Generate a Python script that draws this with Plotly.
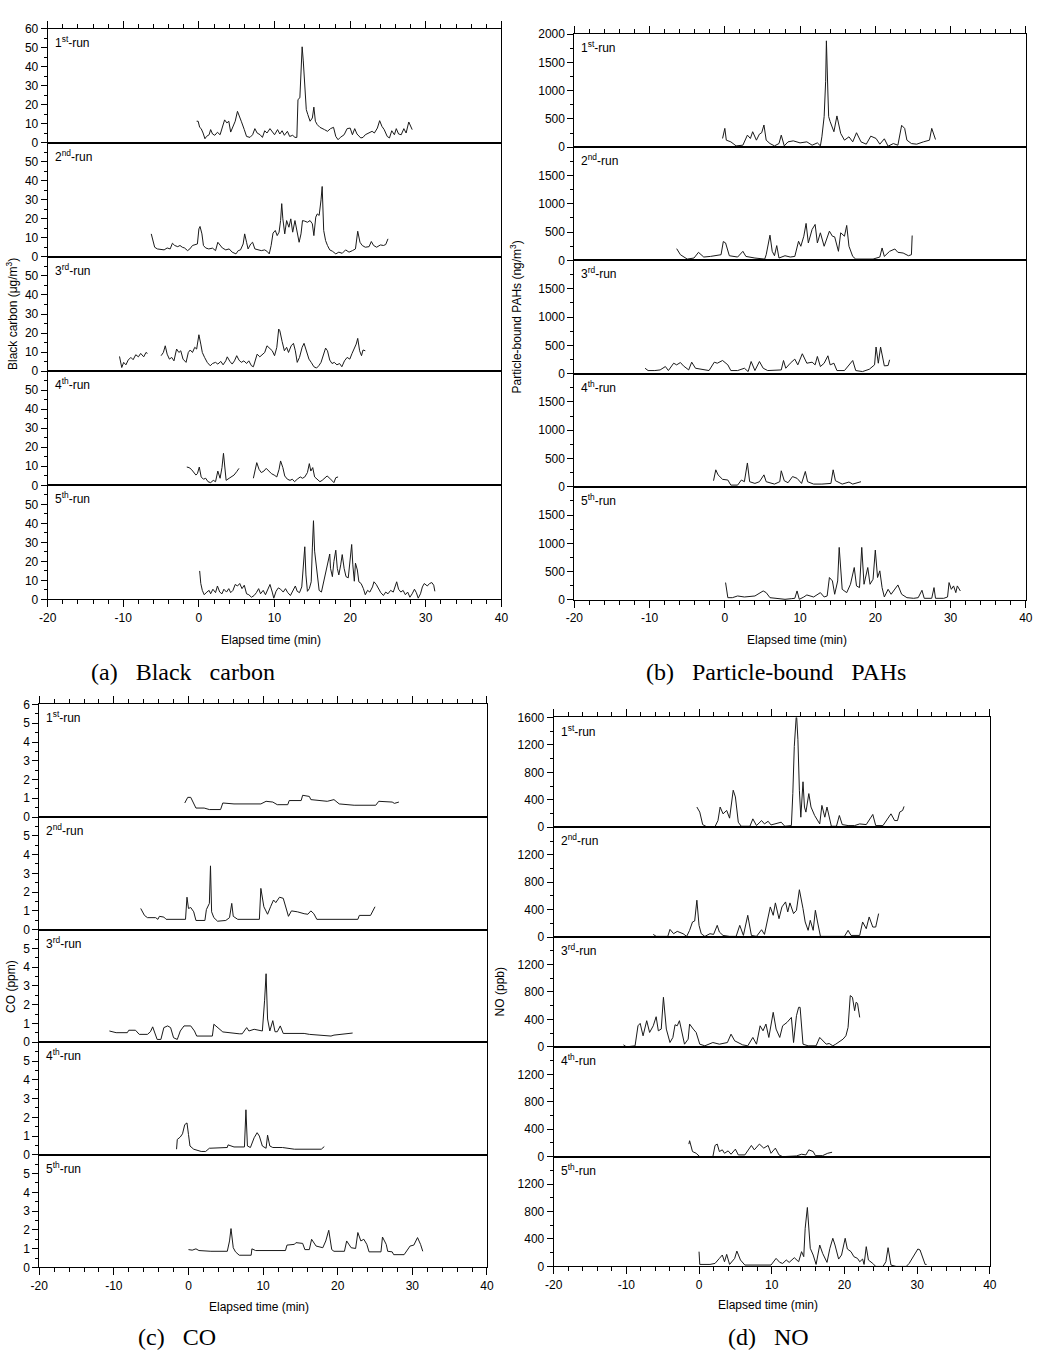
import plotly.graph_objects as go

W, H = 1055, 1355
# measured mapping of the photographed page (page px -> picture px): out = a + s * page
MAP_AX, MAP_SX = 8.0, 0.986
MAP_AY, MAP_SY = 6.0, 0.988

# ---------------- DATA (elapsed time [min], value) ----------------
BC_RUN1 = [(-0.3,11.3),(-0.1,11.3),(0.1,8.1),(0.3,7.4),(0.55,5.1),(0.8,2.1),(1.0,3.3),(1.35,4.2),(1.55,6.9),(1.8,4.6),(2.1,3.9),(2.45,5.5),(2.8,4.2),(3.1,7.7),(3.4,12),(3.7,10.4),(3.95,11.3),(4.2,5.6),(4.5,8.1),(4.8,11.3),(5.1,16.5),(5.3,13.9),(5.6,11.3),(6.0,6.9),(6.3,3.3),(6.75,2.8),(7.1,4.2),(7.4,7.4),(7.7,5.1),(8.1,4.2),(8.4,2.8),(8.7,6.3),(9.0,5.1),(9.4,7.4),(9.7,5.6),(10.0,4.2),(10.4,6.9),(10.7,4.6),(11.0,6.3),(11.3,3.9),(11.7,6.0),(12.0,3.3),(12.4,3.9),(12.7,2.8),(12.95,2.8),(13.1,22.7),(13.35,23.6),(13.5,37.7),(13.65,50.4),(13.8,43),(14.0,26.2),(14.2,17.4),(14.4,14.8),(14.7,11.3),(15.0,13),(15.2,18.7),(15.4,11.3),(15.65,9.5),(16.0,8.1),(16.3,7.7),(16.6,6.9),(17.0,6.0),(17.4,7.4),(17.8,8.1),(18.1,3.3),(18.4,1.6),(18.7,2.8),(19.2,4.2),(19.6,7.4),(20.0,7.7),(20.3,4.2),(20.6,7.4),(20.9,4.6),(21.4,2.5),(21.7,2.8),(22.0,4.2),(22.5,5.1),(22.9,6.0),(23.2,5.1),(23.6,7.7),(23.9,11.6),(24.2,8.6),(24.5,6.9),(24.9,3.3),(25.2,2.5),(25.5,6.3),(25.85,4.2),(26.1,7.4),(26.4,4.6),(26.75,4.2),(27.1,7.4),(27.4,5.1),(27.75,10.9),(28.0,8.6),(28.2,6.9)]
BC_RUN2 = [(-6.3,12.1),(-6.1,8.6),(-5.85,5.1),(-5.5,4.2),(-5.0,3.9),(-4.6,3.7),(-4.2,4.7),(-3.8,4.2),(-3.5,7.2),(-3.2,6.0),(-2.8,5.4),(-2.5,6.0),(-2.2,5.1),(-1.9,4.7),(-1.5,3.3),(-1.2,4.2),(-0.85,6.0),(-0.5,6.5),(-0.2,6.8),(0.0,14.7),(0.15,16),(0.4,12.1),(0.6,6.0),(0.9,4.7),(1.3,4.2),(1.8,4.6),(2.2,3.3),(2.5,7.7),(2.8,6.0),(3.1,4.7),(3.55,3.7),(4.0,4.2),(4.4,2.5),(4.9,1.6),(5.2,3.3),(5.5,3.7),(5.85,6.8),(6.05,12.1),(6.3,7.7),(6.5,4.2),(6.85,6.8),(7.1,7.7),(7.4,4.2),(7.8,3.7),(8.25,3.3),(8.7,3.7),(9.05,2.8),(9.3,1.6),(9.55,6.0),(9.8,12.5),(10.1,13.9),(10.35,11.2),(10.6,13.0),(10.8,19.1),(10.95,28),(11.1,20),(11.35,12.1),(11.6,19.1),(11.9,15.6),(12.15,20),(12.4,13),(12.7,19.1),(12.95,13.9),(13.25,7.7),(13.5,12.1),(13.7,19.1),(14.0,18.8),(14.35,18.2),(14.7,19.1),(15.0,17.4),(15.2,11.2),(15.45,20.9),(15.65,22.6),(15.9,21.8),(16.15,30),(16.3,37),(16.5,13.9),(16.75,8.6),(17.0,6.0),(17.3,3.7),(17.65,3.0),(18.1,1.6),(18.5,2.5),(18.95,1.9),(19.4,3.7),(19.85,2.5),(20.3,3.3),(20.7,4.2),(21.0,13.5),(21.3,7.7),(21.6,6.0),(22.0,5.1),(22.5,5.4),(22.8,8.1),(23.1,6.0),(23.5,5.1),(24.0,6.3),(24.4,6.0),(24.7,6.5),(25.0,9.5)]
BC_RUN3 = [(-10.5,7.7),(-10.2,1.9),(-9.95,4.6),(-9.65,3.3),(-9.35,5.8),(-9.0,7.2),(-8.7,6.0),(-8.35,8.6),(-8.0,7.5),(-7.7,9.3),(-7.3,7.5),(-7.0,9.8),(-6.8,9.3),(None,None),(-5.0,8.1),(-4.7,9.8),(-4.45,13.3),(-4.2,8.9),(-3.9,6.3),(-3.6,7.2),(-3.3,5.4),(-2.95,11.6),(-2.65,9.8),(-2.4,10.7),(-2.1,6.3),(-1.7,4.6),(-1.4,9.8),(-1.15,11.1),(-0.85,9.8),(-0.55,12.5),(-0.3,11.6),(0.0,19.1),(0.25,14.2),(0.45,9.8),(0.75,7.2),(1.1,4.6),(1.5,2.8),(1.8,4.0),(2.2,4.6),(2.5,3.7),(2.9,5.1),(3.2,3.3),(3.55,5.4),(3.75,7.5),(4.1,5.1),(4.4,3.7),(4.7,5.4),(5.0,8.1),(5.3,5.8),(5.6,4.6),(5.95,5.4),(6.3,4.0),(6.6,5.4),(6.95,2.8),(7.2,2.3),(7.5,7.2),(7.7,8.9),(8.05,7.5),(8.4,8.6),(8.7,9.8),(9.0,13.3),(9.4,11.6),(9.7,10.7),(10.0,8.1),(10.3,12.5),(10.55,22.1),(10.7,21.2),(11.0,15.6),(11.3,10.7),(11.6,12.5),(11.85,9.8),(12.2,13.3),(12.5,14.6),(12.75,10.7),(13.0,4.6),(13.3,7.2),(13.65,12.5),(13.9,14.6),(14.25,10.7),(14.55,6.3),(14.85,4.6),(15.2,2.3),(15.55,1.6),(15.85,2.8),(16.15,4.6),(16.5,8.9),(16.75,12.1),(17.0,10.7),(17.3,5.8),(17.6,4.0),(17.9,4.6),(18.25,3.3),(18.6,4.0),(18.9,2.3),(19.25,5.4),(19.6,7.2),(19.95,6.3),(20.25,9.3),(20.55,11.6),(20.8,14.2),(21.0,17.2),(21.25,10.7),(21.5,8.1),(21.7,11.1),(22.0,10.7)]
BC_RUN4 = [(-1.6,9.6),(-1.3,9.3),(-1.0,8.4),(-0.7,6.7),(-0.4,5.4),(-0.2,6.1),(0.05,9.6),(0.3,4.4),(0.6,3.2),(0.9,3.7),(1.2,1.9),(1.55,1.4),(1.9,2.6),(2.2,1.9),(2.5,7.5),(2.8,3.7),(3.05,9.3),(3.25,16.8),(3.4,11.1),(3.6,2.6),(4.0,3.7),(4.3,4.4),(4.65,5.4),(5.0,7.2),(5.3,8.9),(None,None),(7.2,3.7),(7.45,9.3),(7.65,11.9),(7.95,8.4),(8.25,6.7),(8.6,7.5),(8.9,8.9),(9.25,7.5),(9.6,6.1),(9.95,5.4),(10.3,4.4),(10.6,8.4),(10.8,12.8),(11.1,9.3),(11.35,4.9),(11.7,3.2),(12.05,2.6),(12.35,3.2),(12.65,1.9),(13.0,3.2),(13.4,4.4),(13.7,3.7),(14.0,4.4),(14.35,6.7),(14.6,11.4),(14.8,7.5),(15.05,9.3),(15.3,4.4),(15.65,3.2),(16.0,1.9),(16.3,2.6),(16.6,3.7),(16.95,4.9),(17.3,3.7),(17.65,2.3),(17.85,1.4),(18.1,4.0),(18.4,4.4)]
BC_RUN5 = [(0.1,15),(0.25,8.4),(0.45,4.8),(0.7,2.5),(1.05,3.9),(1.35,4.8),(1.55,3.0),(1.85,5.4),(2.2,3.6),(2.45,7.1),(2.75,3.9),(3.05,3.0),(3.3,5.4),(3.65,3.9),(3.95,5.7),(4.2,3.6),(4.5,4.8),(4.8,7.9),(5.1,7.1),(5.4,8.4),(5.7,5.7),(6.0,7.5),(6.3,3.0),(6.6,2.5),(6.95,1.2),(7.3,2.1),(7.6,3.6),(7.9,5.7),(8.15,3.0),(8.5,4.8),(8.8,2.5),(9.15,5.7),(9.4,7.9),(9.7,3.9),(9.9,0.7),(10.2,4.3),(10.5,6.1),(10.8,5.4),(11.15,3.9),(11.45,5.7),(11.75,3.6),(12.1,2.1),(12.45,4.8),(12.75,7.1),(13.0,4.3),(13.3,3.6),(13.6,6.6),(13.8,16.4),(14.0,27.7),(14.15,12.9),(14.35,4.3),(14.6,5.7),(14.85,9.3),(15.0,27.1),(15.15,41.4),(15.3,25.4),(15.5,18.8),(15.65,11.1),(15.9,4.8),(16.2,3.9),(16.45,8.4),(16.75,14.6),(17.05,20),(17.3,23.9),(17.4,16.4),(17.65,12),(17.85,20),(18.1,25.9),(18.3,16.4),(18.5,12.9),(18.75,18.2),(18.95,23.6),(19.2,16.4),(19.45,12),(19.75,11.4),(20.05,21.8),(20.2,28.9),(20.35,18.2),(20.55,9.6),(20.7,19.1),(20.95,15.5),(21.15,9.3),(21.45,8.4),(21.75,5.7),(22.0,2.5),(22.3,4.8),(22.6,3.9),(22.95,6.6),(23.15,9.3),(23.45,7.9),(23.75,5.4),(24.05,3.6),(24.4,2.1),(24.7,3.9),(25.0,3.0),(25.35,4.8),(25.7,3.9),(25.95,6.6),(26.15,9.3),(26.4,5.4),(26.7,3.9),(27.0,4.8),(27.3,2.5),(27.6,3.9),(27.9,1.2),(28.2,3.0),(28.5,5.4),(28.75,3.6),(29.0,0.7),(29.3,3.0),(29.55,6.6),(29.8,8.4),(30.2,7.1),(30.5,8.4),(30.8,8.9),(31.05,7.5),(31.2,4.3)]

PAH_RUN1 = [(-0.3,155),(0,333),(0.2,125),(0.8,95),(1.5,24),(2.4,36),(3.0,214),(3.4,155),(3.7,274),(4.2,125),(4.6,232),(4.9,256),(5.2,393),(5.5,125),(6.0,65),(6.6,24),(7.2,65),(7.5,214),(7.9,24),(8.4,95),(9.1,113),(10.0,77),(10.9,95),(11.6,36),(12.3,77),(12.7,24),(12.9,184),(13.2,541),(13.4,1166),(13.5,1880),(13.7,958),(13.8,541),(14.0,452),(14.5,274),(14.9,553),(15.4,244),(15.9,125),(16.5,184),(17.0,95),(17.5,256),(18.1,95),(18.8,54),(19.4,196),(20.1,155),(20.6,54),(21.2,149),(21.7,18),(22.4,65),(23.0,36),(23.5,387),(23.9,333),(24.2,125),(24.8,65),(25.5,54),(26.4,95),(27.2,125),(27.5,333),(28.0,137)]
PAH_RUN2 = [(-6.4,208),(-5.9,101),(-5.0,24),(-4.1,42),(-3.5,143),(-2.8,60),(-1.9,71),(-1.0,83),(-0.5,101),(-0.2,333),(0.1,309),(0.6,83),(1.7,60),(2.4,161),(2.8,71),(4.0,42),(5.3,24),(5.5,101),(6.0,446),(6.3,161),(6.6,83),(6.9,262),(7.2,42),(8.0,83),(8.7,60),(9.3,71),(9.8,339),(10.1,250),(10.5,428),(10.8,654),(11.1,309),(11.6,547),(12.0,636),(12.3,309),(12.7,488),(13.2,250),(13.9,517),(14.3,428),(14.6,416),(15.1,161),(15.4,488),(15.9,428),(16.2,618),(16.5,250),(17.0,71),(17.4,24),(18.3,24),(19.7,24),(20.6,60),(20.9,220),(21.2,71),(21.9,161),(22.6,202),(23.0,143),(23.7,131),(24.4,83),(24.8,101),(24.9,440)]
PAH_RUN3 = [(-10.6,95),(-10.2,54),(-9.3,54),(-8.6,65),(-7.9,125),(-7.5,54),(-6.8,184),(-6.4,155),(-5.9,196),(-5.5,137),(-4.8,65),(-4.4,202),(-3.9,95),(-3.0,77),(-2.1,54),(-1.4,202),(-1.0,184),(-0.3,232),(0.4,155),(0.8,54),(1.7,54),(2.6,95),(3.1,36),(3.5,214),(4.0,54),(4.6,214),(5.1,95),(5.7,54),(6.6,54),(7.5,65),(7.8,232),(8.1,95),(8.7,184),(9.3,256),(9.7,155),(10.3,351),(10.9,184),(11.6,202),(12.0,155),(12.3,303),(12.7,125),(13.2,184),(13.7,315),(14.0,155),(14.5,184),(14.9,54),(15.9,54),(16.5,155),(17.0,232),(17.4,54),(18.3,36),(19.2,77),(19.9,155),(20.1,470),(20.4,184),(20.7,470),(20.9,303),(21.2,137),(21.7,143),(21.9,244)]
PAH_RUN4 = [(-1.5,108),(-1.2,300),(-0.9,211),(-0.3,132),(0.4,120),(0.8,30),(1.7,30),(2.2,120),(2.6,90),(3.0,421),(3.3,90),(4.0,60),(4.6,90),(5.2,211),(5.5,90),(6.6,48),(7.3,90),(7.5,283),(7.9,108),(8.4,72),(9.0,181),(9.6,150),(10.2,60),(10.7,271),(11.0,90),(11.8,48),(12.9,48),(14.1,60),(14.4,300),(14.7,108),(15.6,48),(16.5,84),(17.0,48),(17.8,72),(18.1,90)]
PAH_RUN5 = [(0.1,308),(0.4,41),(1.0,41),(1.7,71),(2.6,53),(4.0,71),(5.1,160),(5.5,130),(6.0,41),(7.1,30),(8.0,12),(8.9,24),(9.3,30),(9.6,160),(9.9,12),(10.5,53),(10.9,89),(11.8,53),(12.7,130),(13.2,53),(13.6,71),(13.9,397),(14.3,337),(14.6,101),(15.0,337),(15.2,929),(15.4,515),(15.6,189),(16.2,130),(16.7,278),(17.2,574),(17.5,249),(17.9,219),(18.2,929),(18.5,278),(19.0,574),(19.3,278),(19.7,367),(20.0,882),(20.3,397),(20.6,515),(20.9,219),(21.2,53),(21.7,189),(22.1,101),(23.0,266),(23.5,101),(24.2,41),(25.1,30),(25.7,41),(26.2,172),(26.5,30),(27.5,30),(27.8,219),(28.0,30),(29.1,30),(29.6,53),(29.8,308),(30.1,189),(30.4,249),(30.7,130),(30.9,249),(31.3,160)]

CO_RUN1 = [(-0.5,0.75),(-0.1,1.05),(0.3,1.05),(0.7,0.75),(1.0,0.48),(2.1,0.48),(2.8,0.4),(4.3,0.4),(4.6,0.75),(6.1,0.7),(9.7,0.7),(10.4,0.84),(11.3,0.8),(11.9,0.66),(13.3,0.66),(13.5,0.88),(15.1,0.88),(15.3,1.16),(16.2,1.1),(16.4,0.93),(18.6,0.84),(19.5,0.93),(20.2,0.7),(22.2,0.63),(25.1,0.63),(25.5,0.84),(27.3,0.8),(27.6,0.73),(28.2,0.8)]
CO_RUN2 = [(-6.4,1.13),(-5.9,0.76),(-5.5,0.64),(-4.4,0.64),(-4.1,0.55),(-3.9,0.71),(-3.3,0.67),(-3.0,0.55),(-0.4,0.55),(-0.2,1.73),(0,1.13),(0.3,1.18),(0.7,0.95),(1.0,0.49),(2.2,0.49),(2.4,1.07),(2.8,1.4),(2.95,3.4),(3.1,0.95),(3.4,0.64),(3.9,0.45),(5.0,0.49),(5.5,0.64),(5.8,1.4),(6.0,0.71),(6.6,0.55),(9.5,0.55),(9.7,2.2),(10.1,1.22),(10.6,0.82),(11.0,1.22),(11.4,1.58),(11.7,1.44),(12.2,1.73),(12.7,1.67),(13.0,1.22),(13.4,0.71),(13.8,1.0),(14.6,0.95),(15.5,0.85),(16.0,0.82),(16.4,1.0),(16.8,0.85),(17.2,0.55),(19.5,0.55),(22.7,0.55),(22.9,0.76),(24.4,0.76),(25.0,1.22)]
CO_RUN3 = [(-10.6,0.6),(-9.7,0.51),(-8.2,0.51),(-8.0,0.64),(-7.1,0.64),(-6.6,0.42),(-5.5,0.42),(-5.1,0.56),(-4.8,0.82),(-4.5,0.42),(-4.2,0.15),(-3.7,0.15),(-3.3,0.78),(-2.8,0.87),(-2.4,0.78),(-2.0,0.24),(-1.5,0.15),(-1.1,0.6),(-0.6,0.87),(0.3,0.87),(0.8,0.6),(1.1,0.33),(3.2,0.33),(3.4,0.96),(3.9,0.78),(4.3,0.64),(4.6,0.55),(6.8,0.45),(7.2,0.45),(7.8,0.78),(8.1,0.6),(8.8,0.69),(9.5,0.64),(9.9,0.6),(10.2,2.24),(10.4,3.65),(10.6,1.24),(10.9,0.6),(11.3,1.15),(11.6,0.56),(11.9,0.56),(12.3,0.87),(12.7,0.47),(15.5,0.47),(16.2,0.42),(19.1,0.33),(19.5,0.38),(22.0,0.49)]
CO_RUN4 = [(-1.6,0.3),(-1.5,0.82),(-1.1,0.95),(-0.8,1.12),(-0.5,1.61),(-0.2,1.7),(0,1.09),(0.2,0.47),(0.7,0.3),(1.2,0.25),(1.7,0.18),(2.3,0.18),(2.8,0.35),(5.2,0.39),(5.3,0.53),(6.1,0.42),(7.5,0.42),(7.7,2.4),(7.9,0.47),(8.3,0.39),(8.8,0.91),(9.2,1.18),(9.5,1.0),(9.9,0.47),(10.4,0.35),(10.6,1.05),(10.9,0.47),(11.3,0.39),(12.6,0.39),(14.2,0.3),(17.8,0.3),(18.2,0.44)]
CO_RUN5 = [(0,0.95),(0.5,0.92),(1.0,0.99),(1.4,0.9),(3.0,0.86),(5.2,0.86),(5.5,1.41),(5.7,2.07),(6.0,1.05),(6.3,0.83),(6.8,0.65),(8.4,0.65),(8.5,0.99),(9.0,0.9),(13.0,0.9),(13.2,1.19),(14.2,1.23),(14.4,1.32),(15.3,1.28),(15.6,0.95),(16.2,0.95),(16.5,1.5),(17.1,1.14),(18.0,1.05),(18.4,1.41),(18.8,1.98),(19.2,0.95),(19.5,0.86),(20.9,0.86),(21.2,1.41),(21.8,1.05),(22.4,1.01),(22.7,1.86),(23.1,1.41),(23.5,1.5),(23.9,1.23),(24.2,0.83),(25.8,0.83),(26.0,1.62),(26.5,1.23),(26.7,0.86),(27.3,0.83),(27.5,0.68),(28.9,0.68),(29.7,1.14),(30.2,1.19),(30.7,1.59),(31.1,1.23),(31.4,0.86)]

NO_RUN1 = [(-0.3,295),(0.1,221),(0.5,39),(1.0,10),(2.2,10),(2.6,98),(2.9,295),(3.3,196),(3.8,245),(4.2,133),(4.7,540),(5.0,442),(5.4,74),(5.8,15),(7.0,15),(7.4,123),(7.9,25),(8.6,98),(9.0,49),(9.5,88),(9.9,34),(10.6,49),(11.3,74),(11.8,15),(12.7,25),(12.9,491),(13.1,1178),(13.4,1669),(13.6,1277),(13.8,540),(14.0,147),(14.3,663),(14.5,295),(14.7,221),(15.1,491),(15.4,295),(15.9,172),(16.6,49),(16.9,319),(17.3,147),(17.6,295),(18.2,15),(18.9,15),(19.3,172),(19.7,39),(20.5,25),(21.4,25),(22.1,49),(23.0,39),(23.9,187),(24.3,25),(25.3,25),(26.4,196),(26.9,98),(27.3,98),(27.6,221),(28.0,245),(28.2,304)]
NO_RUN2 = [(-6.3,39),(-5.9,10),(-4.3,10),(-4.0,112),(-3.5,49),(-3.0,83),(-2.2,49),(-1.7,10),(-1.3,98),(-0.9,220),(-0.6,234),(-0.3,537),(0,171),(0.3,49),(0.8,10),(1.5,49),(2.0,39),(2.5,171),(2.8,73),(3.3,24),(4.2,10),(5.1,10),(5.6,171),(6.1,24),(6.7,317),(7.2,24),(7.9,10),(8.6,107),(9.0,39),(9.5,293),(9.8,439),(10.2,317),(10.5,498),(11.0,268),(11.4,439),(11.9,512),(12.2,366),(12.5,498),(13.0,342),(13.4,390),(13.8,690),(14.3,415),(14.6,220),(15.0,98),(15.3,244),(15.7,98),(16.0,390),(16.3,220),(16.7,10),(17.9,10),(20.0,10),(20.5,98),(20.9,24),(22.1,24),(22.5,220),(23.0,122),(23.4,293),(23.9,146),(24.3,146),(24.7,342)]
NO_RUN3 = [(-10.4,29),(-10.0,0),(-8.8,15),(-8.4,307),(-8.1,342),(-7.7,161),(-7.2,381),(-6.8,210),(-6.3,307),(-5.9,439),(-5.6,234),(-5.2,259),(-4.9,722),(-4.7,527),(-4.5,259),(-4.0,63),(-3.6,137),(-3.3,322),(-3.0,307),(-2.7,381),(-2.4,244),(-2.0,39),(-1.5,112),(-1.3,332),(-0.8,259),(-0.4,210),(0.1,39),(0.8,15),(1.9,63),(2.8,39),(3.9,63),(4.4,185),(4.9,88),(5.4,63),(6.0,29),(6.7,15),(7.4,137),(7.9,39),(8.4,307),(8.8,234),(9.2,332),(9.6,137),(10.2,503),(10.6,259),(11.1,137),(11.5,307),(12.1,356),(12.7,429),(13.0,63),(13.4,454),(13.7,576),(13.9,576),(14.3,39),(15.0,15),(16.1,15),(16.6,137),(17.0,98),(17.5,39),(17.9,49),(18.4,15),(18.8,39),(19.8,112),(20.2,161),(20.5,283),(20.8,747),(21.1,722),(21.4,527),(21.6,649),(21.8,634),(22.1,429)]
NO_RUN4 = [(-1.4,183),(-1.3,232),(-0.9,74),(-0.4,49),(0.1,0),(1.9,0),(2.2,163),(2.5,183),(2.8,74),(3.2,99),(3.5,49),(4.0,84),(4.4,35),(5.0,109),(5.4,25),(6.3,25),(7.2,163),(7.6,99),(8.3,183),(8.9,124),(9.5,163),(9.9,49),(10.5,124),(11.0,25),(11.5,0),(13.4,10),(14.1,35),(14.7,25),(15.1,99),(15.7,74),(16.0,15),(17.0,15),(17.7,49),(18.3,64)]
NO_RUN5 = [(0,215),(0.1,29),(1.5,29),(2.2,44),(2.8,117),(3.2,166),(3.5,68),(3.8,176),(4.2,29),(4.9,117),(5.2,224),(5.7,93),(6.3,20),(7.4,20),(8.8,29),(9.9,20),(10.6,117),(11.1,59),(11.5,44),(12.0,93),(12.4,59),(13.1,127),(13.7,68),(14.1,215),(14.4,142),(14.6,556),(14.9,859),(15.1,556),(15.3,264),(15.7,166),(16.1,29),(16.6,312),(17.0,190),(17.6,59),(18.0,264),(18.4,410),(18.7,312),(19.2,107),(19.6,166),(20.1,410),(20.4,254),(20.9,215),(21.3,142),(21.8,117),(22.1,68),(22.5,107),(22.7,29),(23.0,288),(23.3,93),(23.9,44),(24.3,0),(25.3,0),(25.7,68),(26.0,273),(26.4,20),(27.1,0),(28.5,0),(28.9,44),(29.6,166),(30.1,254),(30.4,240),(30.8,117),(31.1,29),(31.3,29)]

RUN_LABELS = ["1<sup>st</sup>-run", "2<sup>nd</sup>-run", "3<sup>rd</sup>-run", "4<sup>th</sup>-run", "5<sup>th</sup>-run"]
X_TICKS = [-20, -10, 0, 10, 20, 30, 40]
X_TICK_TEXT = ["-20", "-10", "0", "10", "20", "30", "40"]

# ---------------- LAYOUT (target positions in picture pixels) ----------------
FONT = "Liberation Sans, Arial, sans-serif"
SERIF = "Liberation Serif, Times New Roman, serif"
GAP = "\u00a0\u00a0\u00a0"

panels = [
    dict(series=[BC_RUN1, BC_RUN2, BC_RUN3, BC_RUN4, BC_RUN5], left=46.7, right=501, top=27.5, h=114,
         ymax=60, ystep=10, yminor=5, ytitle="Black carbon (μg/m<sup>3</sup>)", ytx=11,
         xtitle_xy=(270, 638), caption=f"(a){GAP}Black{GAP}carbon", cap_xy=(182, 670)),
    dict(series=[PAH_RUN1, PAH_RUN2, PAH_RUN3, PAH_RUN4, PAH_RUN5], left=574, right=1026, top=33, h=113,
         ymax=2000, ystep=500, yminor=250, ytitle="Particle-bound PAHs (ng/m<sup>3</sup>)", ytx=516,
         xtitle_xy=(797, 638), caption=f"(b){GAP}Particle-bound{GAP}PAHs", cap_xy=(776, 670)),
    dict(series=[CO_RUN1, CO_RUN2, CO_RUN3, CO_RUN4, CO_RUN5], left=38.3, right=486.5, top=702.3, h=112.4,
         ymax=6, ystep=1, yminor=0.5, ytitle="CO (ppm)", ytx=10,
         xtitle_xy=(258, 1304), caption=f"(c){GAP}CO", cap_xy=(176, 1334)),
    dict(series=[NO_RUN1, NO_RUN2, NO_RUN3, NO_RUN4, NO_RUN5], left=553.3, right=990, top=715.3, h=109.6,
         ymax=1600, ystep=400, yminor=200, ytitle="NO (ppb)", ytx=500,
         xtitle_xy=(768, 1302), caption=f"(d){GAP}NO", cap_xy=(768, 1334)),
]

fig = go.Figure()
layout = {}
annotations = []

def px(x):
    return ((x - MAP_AX) / MAP_SX) / W

def py(y):
    return 1 - ((y - MAP_AY) / MAP_SY) / H

k = 0
for p in panels:
    for i, s in enumerate(p["series"]):
        k += 1
        xs = [a for a, b in s]
        ys = [b for a, b in s]
        fig.add_trace(go.Scatter(x=xs, y=ys, mode="lines", xaxis=f"x{k}", yaxis=f"y{k}",
                                 line=dict(color="#1a1a1a", width=1), connectgaps=False,
                                 hoverinfo="skip", showlegend=False))
        top = p["top"] + i * p["h"]
        bot = top + p["h"]
        xa = dict(domain=[px(p["left"]), px(p["right"])], range=[-20, 40], anchor=f"y{k}",
                  showline=True, linecolor="black", linewidth=1, mirror=True,
                  showgrid=False, zeroline=False, tickmode="array", tickvals=X_TICKS,
                  ticktext=X_TICK_TEXT,
                  tickfont=dict(family=FONT, size=12, color="black"))
        if i == 4:
            xa.update(ticks="outside", ticklen=7, tickcolor="black", showticklabels=True,
                      minor=dict(ticks="outside", ticklen=4, tickcolor="black", tickmode="linear", tick0=0, dtick=2))
        elif i == 0:
            xa.update(side="top", ticks="outside", ticklen=7, tickcolor="black", showticklabels=False,
                      minor=dict(ticks="outside", ticklen=4, tickcolor="black", tickmode="linear", tick0=0, dtick=2))
        else:
            xa.update(ticks="", showticklabels=False)
        nmaj = int(round(p["ymax"] / p["ystep"]))
        last = nmaj if i == 0 else nmaj - 1
        yvals = [j * p["ystep"] for j in range(last + 1)]
        ya = dict(domain=[py(bot), py(top)], range=[0, p["ymax"]], anchor=f"x{k}",
                  showline=True, linecolor="black", linewidth=1, mirror=True,
                  showgrid=False, zeroline=False, tickmode="array", tickvals=yvals,
                  ticktext=[f"{v:g}" for v in yvals],
                  ticks="outside", ticklen=6, tickcolor="black",
                  minor=dict(ticks="outside", ticklen=3, tickcolor="black", tickmode="linear", tick0=0, dtick=p["yminor"]),
                  tickfont=dict(family=FONT, size=12, color="black"))
        layout[f"xaxis{k}"] = xa
        layout[f"yaxis{k}"] = ya
        annotations.append(dict(text=RUN_LABELS[i], x=px(p["left"] + 5), y=py(top + 3),
                                xref="paper", yref="paper", xanchor="left", yanchor="top",
                                showarrow=False, font=dict(family=FONT, size=12, color="black")))
    mid = p["top"] + 2.5 * p["h"]
    annotations.append(dict(text=p["ytitle"], x=px(p["ytx"]), y=py(mid), xref="paper", yref="paper",
                            xanchor="center", yanchor="middle", textangle=-90, showarrow=False,
                            font=dict(family=FONT, size=12, color="black")))
    annotations.append(dict(text="Elapsed time (min)", x=px(p["xtitle_xy"][0]), y=py(p["xtitle_xy"][1]),
                            xref="paper", yref="paper", xanchor="center", yanchor="middle", showarrow=False,
                            font=dict(family=FONT, size=12, color="black")))
    annotations.append(dict(text=p["caption"], x=px(p["cap_xy"][0]), y=py(p["cap_xy"][1]),
                            xref="paper", yref="paper", xanchor="center", yanchor="middle", showarrow=False,
                            font=dict(family=SERIF, size=24, color="black")))

fig.update_layout(width=W, height=H, margin=dict(l=0, r=0, t=0, b=0),
                  paper_bgcolor="white", plot_bgcolor="white", showlegend=False,
                  annotations=annotations, **layout)

fig.write_html("out.html", config={"displayModeBar": False},
               post_script="document.documentElement.style.margin='0';document.body.style.margin='0';"
                           "document.documentElement.style.overflow='hidden';document.body.style.overflow='hidden';")
